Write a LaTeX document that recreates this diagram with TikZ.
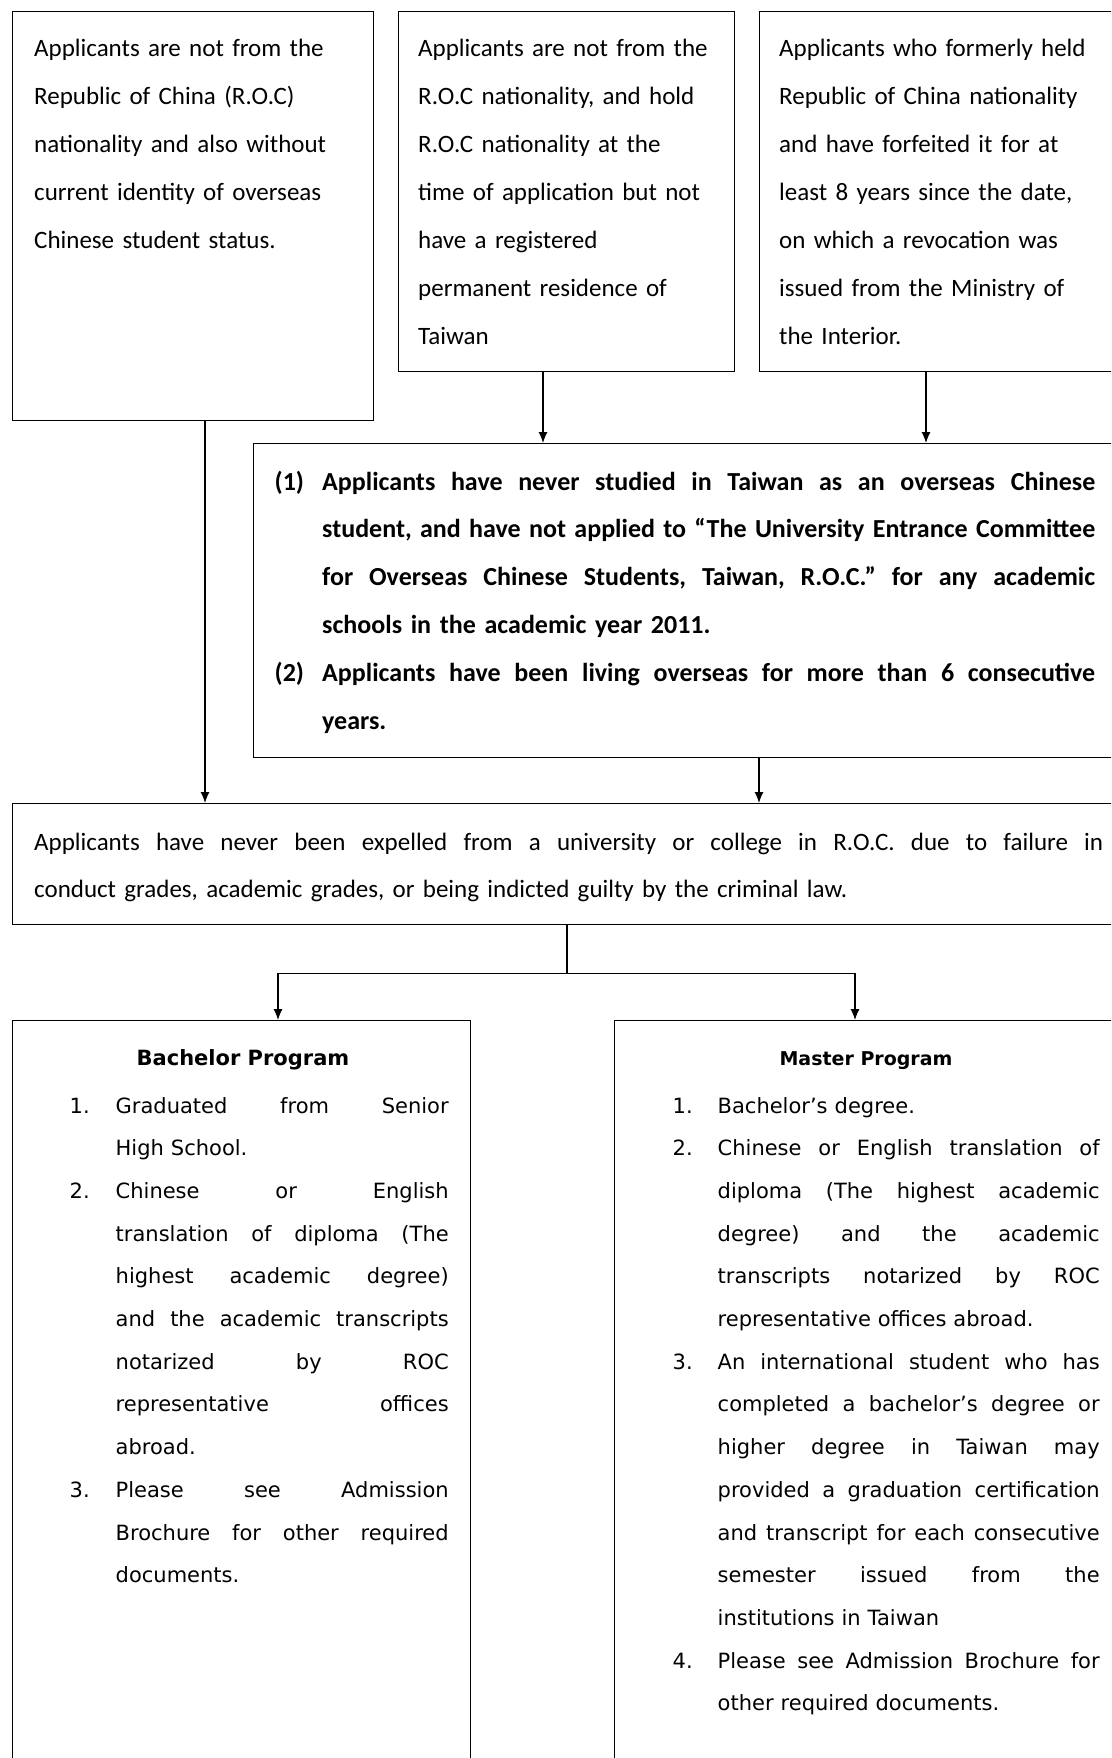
\documentclass[tikz,border=0pt]{standalone}
\usepackage{fontspec}
\setmainfont{Carlito}
\newfontfamily\verdfont{DejaVu Sans}
\usetikzlibrary{arrows.meta}
\setlength{\parindent}{0pt}

% spread the words of one line over a given width
\makeatletter
\def\spreadwords#1{\spread@w#1 \@nil}
\def\spread@w#1 #2\@nil{#1\ifx\relax#2\relax\else\hfill\spread@w#2\@nil\fi}
\makeatother
\newcommand{\jd}[1]{\hbox to 773pt{\spreadwords{#1}}}
\newcommand{\je}[1]{\hbox to 1069pt{\spreadwords{#1}}}
\newcommand{\jb}[1]{\hbox to 333pt{\spreadwords{#1}}}
\newcommand{\jm}[1]{\hbox to 382pt{\spreadwords{#1}}}
% list numbers and hanging indent
\newcommand{\lbl}[2][46pt]{\makebox[#1][l]{#2}}
\newcommand{\skipin}[1][46pt]{\hspace*{#1}}

\begin{document}
\begin{tikzpicture}[x=1pt, y=-1pt,
  box/.style={draw, line width=1.2pt, inner sep=0pt, anchor=north west},
  toptxt/.style={anchor=base west, inner sep=0pt, align=left, text width=335pt,
    font=\fontsize{25}{48}\selectfont},
  boldtxt/.style={anchor=base west, inner sep=0pt, align=left, text width=830pt,
    font=\fontsize{26}{47.8}\selectfont\bfseries},
  ruletxt/.style={anchor=base west, inner sep=0pt, align=left, text width=1075pt,
    font=\fontsize{25}{47}\selectfont},
  listtxt/.style={anchor=base west, inner sep=0pt, align=left, text width=440pt,
    font=\verdfont\fontsize{21}{42.7}\selectfont},
  headtxt/.style={anchor=base, inner sep=0pt, font=\verdfont\fontsize{21}{25}\selectfont\bfseries},
  arr/.style={-{Latex[length=11pt,width=9pt]}, line width=1.1pt},
  link/.style={line width=1.1pt}]
\useasboundingbox (0,0) rectangle (1111,1758);
\clip (0,0) rectangle (1111,1758);
%
% --- Top row ---
\node[box, minimum width=361pt, minimum height=409pt] (nonroc) at (12,11) {};
\node[box, minimum width=336pt, minimum height=360pt] (noreg) at (398,11) {};
\node[box, minimum width=380pt, minimum height=360pt] (forfeit) at (759,11) {};
\node[toptxt] (nonroc-txt) at (34,57) {Applicants are not from the\\
  Republic of China (R.O.C)\\
  nationality and also without\\
  current identity of overseas\\
  Chinese student status.};
\node[toptxt] (noreg-txt) at (418,57) {Applicants are not from the\\
  R.O.C nationality, and hold\\
  R.O.C nationality at the\\
  time of application but not\\
  have a registered\\
  permanent residence of\\
  Taiwan};
\node[toptxt] (forfeit-txt) at (779,57) {Applicants who formerly held\\
  Republic of China nationality\\
  and have forfeited it for at\\
  least 8 years since the date,\\
  on which a revocation was\\
  issued from the Ministry of\\
  the Interior.};
%
% --- Overseas conditions ---
\node[box, minimum width=880pt, minimum height=314pt] (never) at (253,443) {};
\node[boldtxt] (never-txt) at (274.5,490) {%
  \lbl[47.5pt]{(1)}\jd{Applicants have never studied in Taiwan as an overseas Chinese}\\
  \skipin[47.5pt]\jd{student, and have not applied to “The University Entrance Committee}\\
  \skipin[47.5pt]\jd{for Overseas Chinese Students, Taiwan, R.O.C.” for any academic}\\
  \skipin[47.5pt]schools in the academic year 2011.\\
  \lbl[47.5pt]{(2)}\jd{Applicants have been living overseas for more than 6 consecutive}\\
  \skipin[47.5pt]years.};
%
% --- Common rule ---
\node[box, minimum width=1120pt, minimum height=121pt] (rule) at (12,803) {};
\node[ruletxt] (rule-txt) at (34,850) {%
  \je{Applicants have never been expelled from a university or college in R.O.C. due to failure in}\\
  conduct grades, academic grades, or being indicted guilty by the criminal law.};
%
% --- Programs ---
\node[box, minimum width=458pt, minimum height=760pt] (bach) at (12,1020) {};
\node[box, minimum width=520pt, minimum height=760pt] (mast) at (614,1020) {};
\node[headtxt] (bach-head) at (243,1065) {Bachelor Program};
\node[headtxt, font=\verdfont\fontsize{19}{23}\selectfont\bfseries] (mast-head) at (866,1065) {Master Program};
\node[listtxt] (bach-txt) at (69.5,1113) {%
  \lbl{1.}\jb{Graduated from Senior}\\
  \skipin High School.\\
  \lbl{2.}\jb{Chinese or English}\\
  \skipin\jb{translation of diploma (The}\\
  \skipin\jb{highest academic degree)}\\
  \skipin\jb{and the academic transcripts}\\
  \skipin\jb{notarized by ROC}\\
  \skipin\jb{representative offices}\\
  \skipin abroad.\\
  \lbl{3.}\jb{Please see Admission}\\
  \skipin\jb{Brochure for other required}\\
  \skipin documents.};
\node[listtxt] (mast-txt) at (672.5,1113) {%
  \lbl[45pt]{1.}Bachelor’s degree.\\
  \lbl[45pt]{2.}\jm{Chinese or English translation of}\\
  \skipin[45pt]\jm{diploma (The highest academic}\\
  \skipin[45pt]\jm{degree) and the academic}\\
  \skipin[45pt]\jm{transcripts notarized by ROC}\\
  \skipin[45pt]representative offices abroad.\\
  \lbl[45pt]{3.}\jm{An international student who has}\\
  \skipin[45pt]\jm{completed a bachelor’s degree or}\\
  \skipin[45pt]\jm{higher degree in Taiwan may}\\
  \skipin[45pt]\jm{provided a graduation certification}\\
  \skipin[45pt]\jm{and transcript for each consecutive}\\
  \skipin[45pt]\jm{semester issued from the}\\
  \skipin[45pt]institutions in Taiwan\\
  \lbl[45pt]{4.}\jm{Please see Admission Brochure for}\\
  \skipin[45pt]other required documents.};
%
% --- Connectors ---
\draw[arr] ([xshift=193pt]nonroc.south west) -- ([xshift=193pt]nonroc.south west |- rule.north);
\draw[arr] ([xshift=145pt]noreg.south west) -- ([xshift=145pt]noreg.south west |- never.north);
\draw[arr] ([xshift=167pt]forfeit.south west) -- ([xshift=167pt]forfeit.south west |- never.north);
\draw[arr] ([xshift=506pt]never.south west) -- ([xshift=506pt]never.south west |- rule.north);
\coordinate (split) at ([xshift=555pt,yshift=-48pt]rule.south west);
\draw[link] ([xshift=555pt]rule.south west) -- (split);
\draw[arr] (split) -| ([xshift=266pt]bach.north west);
\draw[arr] (split) -| ([xshift=241pt]mast.north west);
%
\end{tikzpicture}
\end{document}
